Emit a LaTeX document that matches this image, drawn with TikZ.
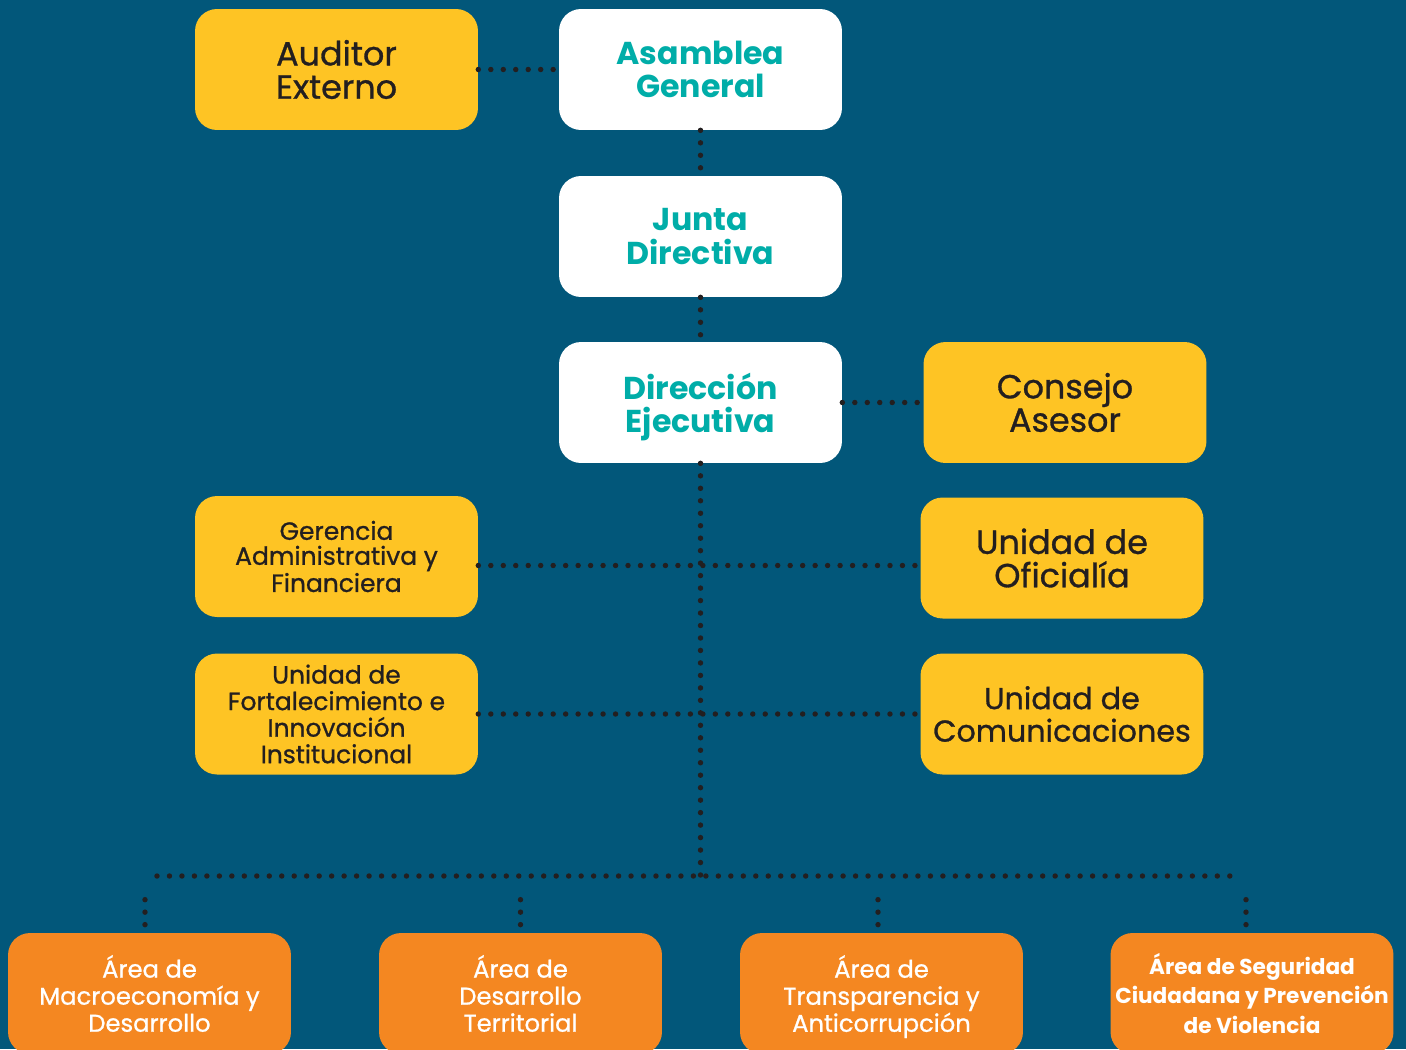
\documentclass[tikz,border=0pt]{standalone}
\usepackage{fontspec}
\setmainfont{Poppins}
\newfontfamily\mediumfont{Poppins}[FakeBold=0.9]
\usetikzlibrary{positioning}

\definecolor{bgblue}{HTML}{02577A}
\definecolor{boxyellow}{HTML}{FEC424}
\definecolor{boxorange}{HTML}{F48721}
\definecolor{textteal}{HTML}{00ADA8}
\definecolor{textdark}{HTML}{231F20}

\begin{document}
\begin{tikzpicture}[x=0.02cm,y=-0.02cm]\tikzset{box/.style={rounded corners=0.44cm, minimum width=5.66cm, minimum height=2.42cm, align=center, inner sep=0pt}, whitebox/.style={box, fill=white, text=textteal, font=\bfseries\fontsize{18}{19}\selectfont}, yellowbox/.style={box, fill=boxyellow, text=textdark, font=\mediumfont\fontsize{19}{19}\selectfont}, smallyellow/.style={box, fill=boxyellow, text=textdark, font=\mediumfont\fontsize{14.2}{14.2}\selectfont}, orangebox/.style={box, fill=boxorange, text=white, font=\mediumfont\fontsize{13.8}{15.4}\selectfont}, dots/.style={draw=textdark, line width=3.1pt, line cap=round, dash pattern=on 0pt off 7.1pt}}
	\useasboundingbox (0,0) rectangle (1406,1049);
	\clip (0,0) rectangle (1406,1049);
	\fill[bgblue] (0,0) rectangle (1406,1049);
	\node[yellowbox] (auditor) at (336.5,69.5) {Auditor\\Externo};
	\node[whitebox] (asamblea) at (700.5,69.5) {Asamblea\\General};
	\node[whitebox] (junta) at (700.5,236.5) {Junta\\Directiva};
	\node[whitebox] (direccion) at (700.5,402.5) {Dirección\\\smash{Ejecutiva}};
	\node[yellowbox] (consejo) at (1065,402.5) {Consejo\\Asesor};
	\node[smallyellow] (gerencia) at (336.5,556.5) {Gerencia\\Administrativa y\\Financiera};
	\node[yellowbox] (oficialia) at (1062,558) {Unidad de\\Oficialía};
	\node[smallyellow, font=\mediumfont\fontsize{14.2}{15.1}\selectfont] (fortalecimiento) at (336.5,714) {Unidad de\\Fortalecimiento e\\Innovación\\Institucional};
	\node[yellowbox, font=\mediumfont\fontsize{17.2}{18.5}\selectfont] (comunicaciones) at (1062,714) {Unidad de\\Comunicaciones};
	\node[orangebox] (macro) at (149.5,993.5) {Área de\\Macroeconomía y\\Desarrollo};
	\node[orangebox] (territorial) at (520.5,993.5) {Área de\\Desarrollo\\Territorial};
	\node[orangebox] (transparencia) at (881.5,993.5) {Área de\\Transparencia y\\\smash{Anticorrupción}};
	\node[orangebox, font=\bfseries\fontsize{12.3}{16.8}\selectfont] (seguridad) at (1252,993.5) {Área de Seguridad\\Ciudadana y Prevención\\de Violencia};
	\coordinate (hub) at (700.5,876);
	\coordinate (left end) at (157,876);
	\coordinate (right end) at (1242,876);
	\path[dots] (auditor.east) -- (asamblea.west);
	\path[dots] (asamblea.south) -- (junta.north);
	\path[dots] (junta.south) -- (direccion.north);
	\path[dots] (direccion.east) -- (consejo.west);
	\path[dots] (direccion.south) -- (hub);
	\path[dots] ([yshift=-0.18cm]gerencia.east) -- ([yshift=-0.15cm]oficialia.west);
	\path[dots] (fortalecimiento.east) -- (comunicaciones.west);
	\path[dots] (left end) -- (right end);
	\path[dots] ([xshift=-0.09cm,yshift=0.66cm]macro.north) -- ([xshift=-0.09cm]macro.north);
	\path[dots] ([yshift=0.66cm]territorial.north) -- (territorial.north);
	\path[dots] ([xshift=-0.07cm,yshift=0.66cm]transparencia.north) -- ([xshift=-0.07cm]transparencia.north);
	\path[dots] ([xshift=-0.12cm,yshift=0.66cm]seguridad.north) -- ([xshift=-0.12cm]seguridad.north);\end{tikzpicture}
\end{document}
